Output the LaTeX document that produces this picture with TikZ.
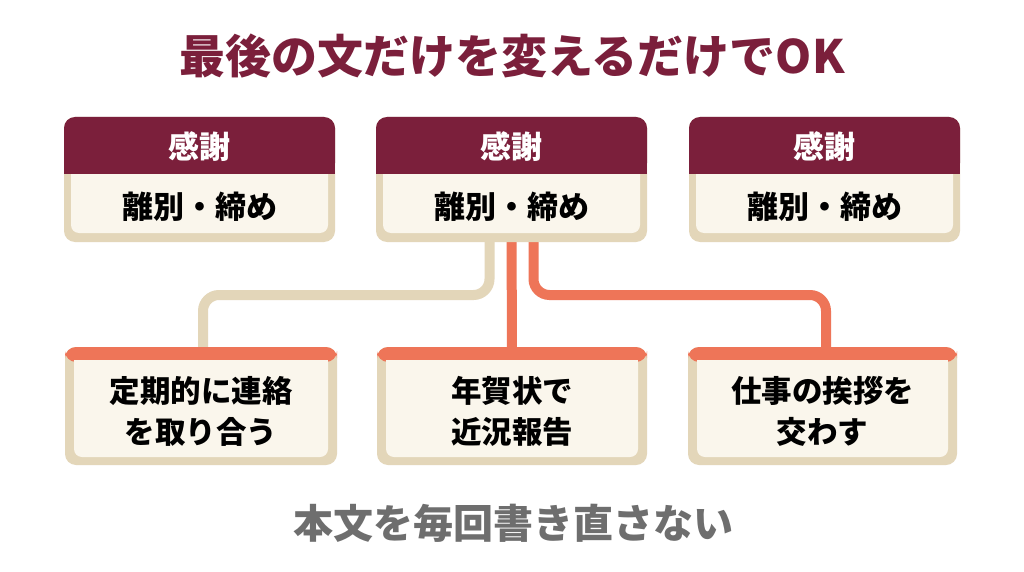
\documentclass[tikz,border=0pt]{standalone}
\usepackage{fontspec}
\setmainfont{Noto Sans CJK JP}
\usetikzlibrary{calc}
\definecolor{maroonc}{HTML}{7B1F3B}
\definecolor{tanc}{HTML}{E3D6B9}
\definecolor{creamc}{HTML}{FAF6EC}
\definecolor{orangec}{HTML}{EE7558}
\definecolor{grayc}{HTML}{6E6E6E}
\tikzset{
  frame/.style={inner sep=0pt, outer sep=0pt, minimum width=#1, draw=none},
  hdrtext/.style={text=white, font=\fontsize{31}{34}\selectfont\bfseries, inner sep=0pt},
  bodytext/.style={text=black, font=\fontsize{31}{34}\selectfont\bfseries, inner sep=0pt},
  lowtext/.style={text=black, font=\fontsize{30.5}{41}\selectfont\bfseries, align=center, inner sep=0pt},
  tanline/.style={draw=tanc, line width=10pt, rounded corners=16pt},
  orangeline/.style={draw=orangec, line width=10pt, rounded corners=16pt},
}
\newcommand\topcard[3]{% name, left, right
  \node[frame=#3pt-#2pt, minimum height=125pt] (#1) at ({(#2+#3)/2},179.5) {};
  \fill[tanc, rounded corners=11pt] (#2,117) rectangle (#3,242);
  \fill[creamc, rounded corners=8pt] (#2+7,160) rectangle (#3-7,233);
  \fill[maroonc, rounded corners=11pt] (#2,117) rectangle (#3,174);
  \fill[maroonc] (#2,150) rectangle (#3,174);
}
\newcommand\lowcard[3]{% name, left, right
  \node[frame=#3pt-#2pt, minimum height=118pt] (#1) at ({(#2+#3)/2},406) {};
  \fill[tanc, rounded corners=11pt] (#2,347) rectangle (#3,465);
  \fill[creamc, rounded corners=8pt] (#2+9,352) rectangle (#3-9,457);
  \fill[orangec, rounded corners=11pt] (#2,347) rectangle (#3,362);
  \fill[creamc] (#2+9,360) rectangle (#3-9,370);
}
\begin{document}
\begin{tikzpicture}[x=1pt,y=-1pt]
\useasboundingbox[fill=white] (0,0) rectangle (1024,572);
% invisible frames for routing
\node[frame=271pt, minimum height=125pt] (t2) at (511.5,179.5) {};
\node[frame=272pt, minimum height=118pt] (b1) at (201,406) {};
\node[frame=270pt, minimum height=118pt] (b2) at (512,406) {};
\node[frame=269pt, minimum height=118pt] (b3) at (824,406) {};
\coordinate (mid) at (512,295);
% connectors
\draw[tanline] ([xshift=-22pt,yshift=10pt]t2.south) -- ([xshift=-22pt]t2.south |- mid) -| ([xshift=2pt,yshift=-5pt]b1.north);
\draw[orangeline] ([yshift=10pt]t2.south) -- ([yshift=-5pt]b2.north);
\draw[orangeline] ([xshift=22pt,yshift=10pt]t2.south) -- ([xshift=22pt]t2.south |- mid) -| ([xshift=2pt,yshift=-5pt]b3.north);
% cards
\topcard{t1}{64}{335}
\topcard{t2x}{376}{647}
\topcard{t3}{689}{960}
\lowcard{b1x}{65}{337}
\lowcard{b2x}{377}{647}
\lowcard{b3x}{688}{957}
% texts
\node[text=maroonc, font=\fontsize{46}{50}\selectfont\bfseries, inner sep=0pt] (title) at (512,56) {最後の文だけを変えるだけでOK};
\node[hdrtext] (h1) at (199.5,147) {感謝};
\node[hdrtext] (h2) at (511.5,147) {感謝};
\node[hdrtext] (h3) at (824.5,147) {感謝};
\node[bodytext] (m1) at (199.5,207) {離別・締め};
\node[bodytext] (m2) at (511.5,207) {離別・締め};
\node[bodytext] (m3) at (824.5,207) {離別・締め};
\node[lowtext] (l1) at (201,411) {定期的に連絡\\を取り合う};
\node[lowtext] (l2) at (512,411) {年賀状で\\近況報告};
\node[lowtext] (l3) at (822.5,411) {仕事の挨拶を\\交わす};
\node[text=grayc, font=\fontsize{40}{44}\selectfont\bfseries, inner sep=0pt] (foot) at (513,523) {本文を毎回書き直さない};
\end{tikzpicture}
\end{document}
